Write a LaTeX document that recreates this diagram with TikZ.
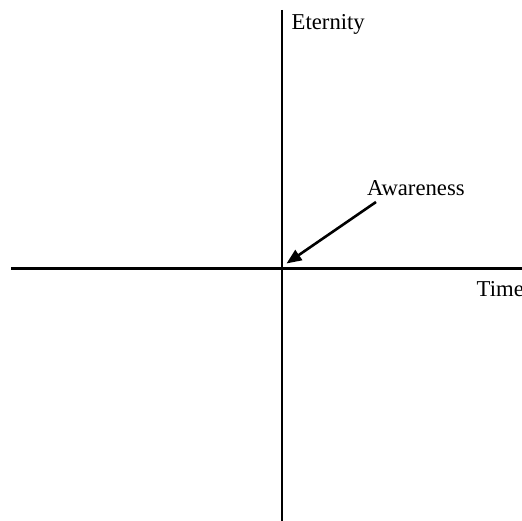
\documentclass[tikz,border=0pt]{standalone}
\usepackage{fontspec}
\setmainfont{Liberation Serif}
\usetikzlibrary{arrows.meta}
\begin{document}
\begin{tikzpicture}[x=1pt,y=-1pt,
  axis/.style={line width=2.6pt,black},
  lbl/.style={inner sep=0pt,anchor=base west,font=\fontsize{22.7}{27}\selectfont},
  pointer/.style={line width=2.6pt,-{Triangle[length=15pt,width=12pt]}}]
\useasboundingbox (0,0) rectangle (522,521);
\coordinate (vtop) at (282,10);
\coordinate (vbot) at (282,530);
\coordinate (hleft) at (11,268.5);
\coordinate (hright) at (530,268.5);
\draw[axis] (vtop) -- (vbot);
\draw[axis] (hleft) -- (hright);
\node[lbl] (eternity) at (291.5,30) {Eternity};
\node[lbl] (awareness) at (367,196) {Awareness};
\node[lbl] (time) at (476.5,297) {Time};
\coordinate (astart) at (376,202);
\coordinate (aend) at (286.5,263.5);
\draw[pointer] (astart) -- (aend);
\end{tikzpicture}
\end{document}
